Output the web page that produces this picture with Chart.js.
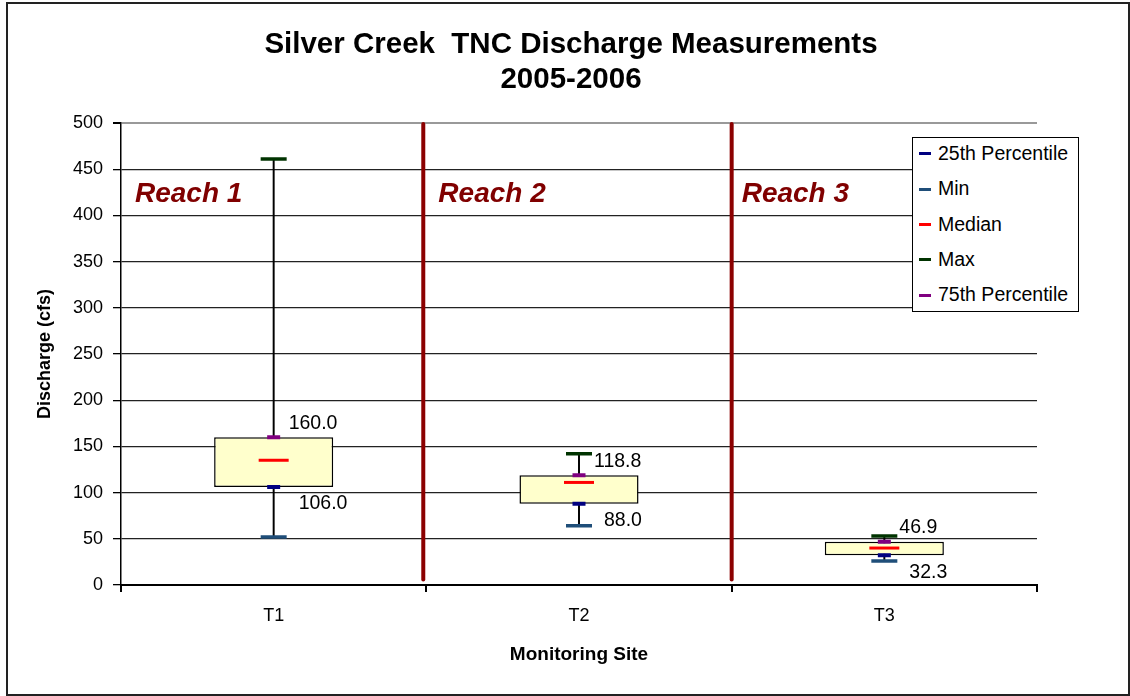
<!DOCTYPE html>
<html>
<head>
<meta charset="utf-8">
<script src="https://cdn.jsdelivr.net/npm/chart.js@4.4.1/dist/chart.umd.min.js"></script>
<style>
html,body{margin:0;padding:0;background:#fff;}
#wrap{position:relative;width:1130px;height:696px;overflow:hidden;}
#frame{position:absolute;left:6px;top:2px;width:1124px;height:694px;border:2px solid #222;box-sizing:border-box;}
#c{position:absolute;left:0;top:0;}
#legend{position:absolute;left:912px;top:137px;width:167px;height:175px;border:1px solid #000;background:#fff;box-sizing:border-box;font:19.5px "Liberation Sans",Arial,sans-serif;color:#000;}
.item{position:absolute;left:6px;height:22px;line-height:22px;white-space:nowrap;}
.sw{display:inline-block;width:12px;height:3px;vertical-align:middle;margin-right:7px;position:relative;top:-1px;}
</style>
</head>
<body>
<div id="wrap">
  <div id="frame"></div>
  <canvas id="c" width="1130" height="696"></canvas>
  <div id="legend"></div>
</div>
<script>
// ---- data ----
const categories = ['T1', 'T2', 'T3'];
const minValues = [52, 64, 26];
const q1Values = [106.0, 88.0, 32.3];
const medianValues = [135, 111, 40];
const q3Values = [160.0, 118.8, 46.9];
const maxValues = [461, 142, 53];
const yTickValues = [0, 50, 100, 150, 200, 250, 300, 350, 400, 450, 500];
const reachLabels = ['Reach 1', 'Reach 2', 'Reach 3'];
const reachDividers = [0.49, 1.5];    // in category units
const reachDividerRange = [6, 500];   // in axis units
const chartTitle = ['Silver Creek  TNC Discharge Measurements', '2005-2006'];
const yTitle = 'Discharge (cfs)';
const xTitle = 'Monitoring Site';

const FONT = '"Liberation Sans", Arial, sans-serif';

const markerSets = [
  { label: '25th Percentile', data: q1Values, color: '#000080', r: 6.5, w: 4 },
  { label: 'Min', data: minValues, color: '#1f4e79', r: 13, w: 3.5 },
  { label: 'Median', data: medianValues, color: '#ff0000', r: 15, w: 3 },
  { label: 'Max', data: maxValues, color: '#003300', r: 13, w: 3.5 },
  { label: '75th Percentile', data: q3Values, color: '#800080', r: 6.5, w: 4 }
];

const datasets = markerSets.map(m => ({
  type: 'line',
  label: m.label,
  data: m.data,
  showLine: false,
  pointStyle: 'line',
  pointRadius: m.r,
  pointHoverRadius: m.r,
  pointBorderWidth: m.w,
  pointHoverBorderWidth: m.w,
  borderColor: m.color,
  backgroundColor: m.color,
  order: 1
}));

datasets.push({
  type: 'bar',
  label: 'box',
  data: categories.map((c, i) => [q1Values[i], q3Values[i]]),
  backgroundColor: '#ffffcc',
  borderColor: '#000',
  borderWidth: 1.5,
  borderSkipped: false,
  grouped: false,
  barPercentage: 0.39,
  categoryPercentage: 1,
  order: 2
});
datasets.push({
  type: 'bar',
  label: 'whisker',
  data: categories.map((c, i) => [minValues[i], maxValues[i]]),
  backgroundColor: '#000',
  borderWidth: 0,
  grouped: false,
  barThickness: 1.3,
  order: 3
});

const decorPlugin = {
  id: 'decor',
  beforeDatasetsDraw(chart) {
    const {ctx, scales: {x, y}} = chart;
    ctx.save();
    ctx.strokeStyle = '#8b0000';
    ctx.lineWidth = 4;
    ctx.lineCap = 'round';
    reachDividers.forEach(v => {
      const px = x.getPixelForValue(v);
      ctx.beginPath();
      ctx.moveTo(px, y.getPixelForValue(reachDividerRange[1]) + 1);
      ctx.lineTo(px, y.getPixelForValue(reachDividerRange[0]));
      ctx.stroke();
    });
    ctx.fillStyle = '#800000';
    ctx.font = 'italic bold 28px ' + FONT;
    ctx.textAlign = 'left';
    ctx.textBaseline = 'alphabetic';
    reachLabels.forEach((t, i) => {
      const left = x.getPixelForValue(i - 0.5);
      ctx.fillText(t, left + 14 - i * 2, y.getPixelForValue(415));
    });
    ctx.restore();
  },
  afterDatasetsDraw(chart) {
    const {ctx, scales: {x, y}} = chart;
    ctx.save();
    ctx.fillStyle = '#000';
    ctx.font = '19.5px ' + FONT;
    ctx.textAlign = 'left';
    ctx.textBaseline = 'middle';
    categories.forEach((c, i) => {
      const cx = x.getPixelForValue(i);
      ctx.fillText(q3Values[i].toFixed(1), cx + 15, y.getPixelForValue(q3Values[i]) - 14);
      ctx.fillText(q1Values[i].toFixed(1), cx + 25, y.getPixelForValue(q1Values[i]) + 17);
    });
    // main title
    ctx.font = 'bold 29.5px ' + FONT;
    ctx.textAlign = 'center';
    ctx.fillText(chartTitle[0], 571, 45);
    ctx.fillText(chartTitle[1], 571, 80);
    ctx.restore();
  }
};

const chart = new Chart(document.getElementById('c'), {
  type: 'bar',
  data: { labels: categories, datasets },
  options: {
    responsive: false,
    animation: false,
    events: [],
    layout: { padding: { top: 123, right: 93, left: 0, bottom: 0 } },
    plugins: {
      legend: { display: false },
      tooltip: { enabled: false },
      title: { display: false }
    },
    scales: {
      x: {
        type: 'category',
        offset: true,
        afterFit(s) { s.height = 111; },
        grid: {
          offset: true,
          drawOnChartArea: true,
          color: ctx => (ctx.index === categories.length ? '#999' : 'rgba(0,0,0,0)'),
          tickColor: '#000',
          tickLength: 7,
          lineWidth: 2
        },
        border: { display: true, color: '#000', width: 2 },
        ticks: { color: '#000', font: { family: FONT, size: 18 }, padding: 13, maxRotation: 0 },
        title: { display: true, text: xTitle, color: '#000', font: { family: FONT, size: 19, weight: 'bold' }, padding: { top: 0, bottom: 30 } }
      },
      y: {
        min: 0,
        max: 500,
        afterFit(s) { s.width = 121; },
        afterBuildTicks(s) { s.ticks = yTickValues.map(v => ({ value: v })); },
        grid: {
          color: ctx => (ctx.tick && ctx.tick.value === 500 ? '#999' : '#222'),
          tickColor: '#000',
          lineWidth: ctx => (ctx.tick && ctx.tick.value === 500 ? 2 : 1.3),
          tickLength: 8
        },
        border: { display: true, color: '#000', width: 1.5 },
        ticks: { color: '#000', font: { family: FONT, size: 18 }, padding: 10 },
        title: { display: true, text: yTitle, color: '#000', font: { family: FONT, size: 18, weight: 'bold' }, padding: { top: 34, bottom: 0 } }
      }
    }
  },
  plugins: [decorPlugin]
});

// HTML legend built from the marker datasets
const lg = document.getElementById('legend');
markerSets.forEach((m, i) => {
  const d = document.createElement('div');
  d.className = 'item';
  d.style.top = (4 + i * 35.3) + 'px';
  const sw = document.createElement('span');
  sw.className = 'sw';
  sw.style.background = m.color;
  d.appendChild(sw);
  d.appendChild(document.createTextNode(m.label));
  lg.appendChild(d);
});
</script>
</body>
</html>
